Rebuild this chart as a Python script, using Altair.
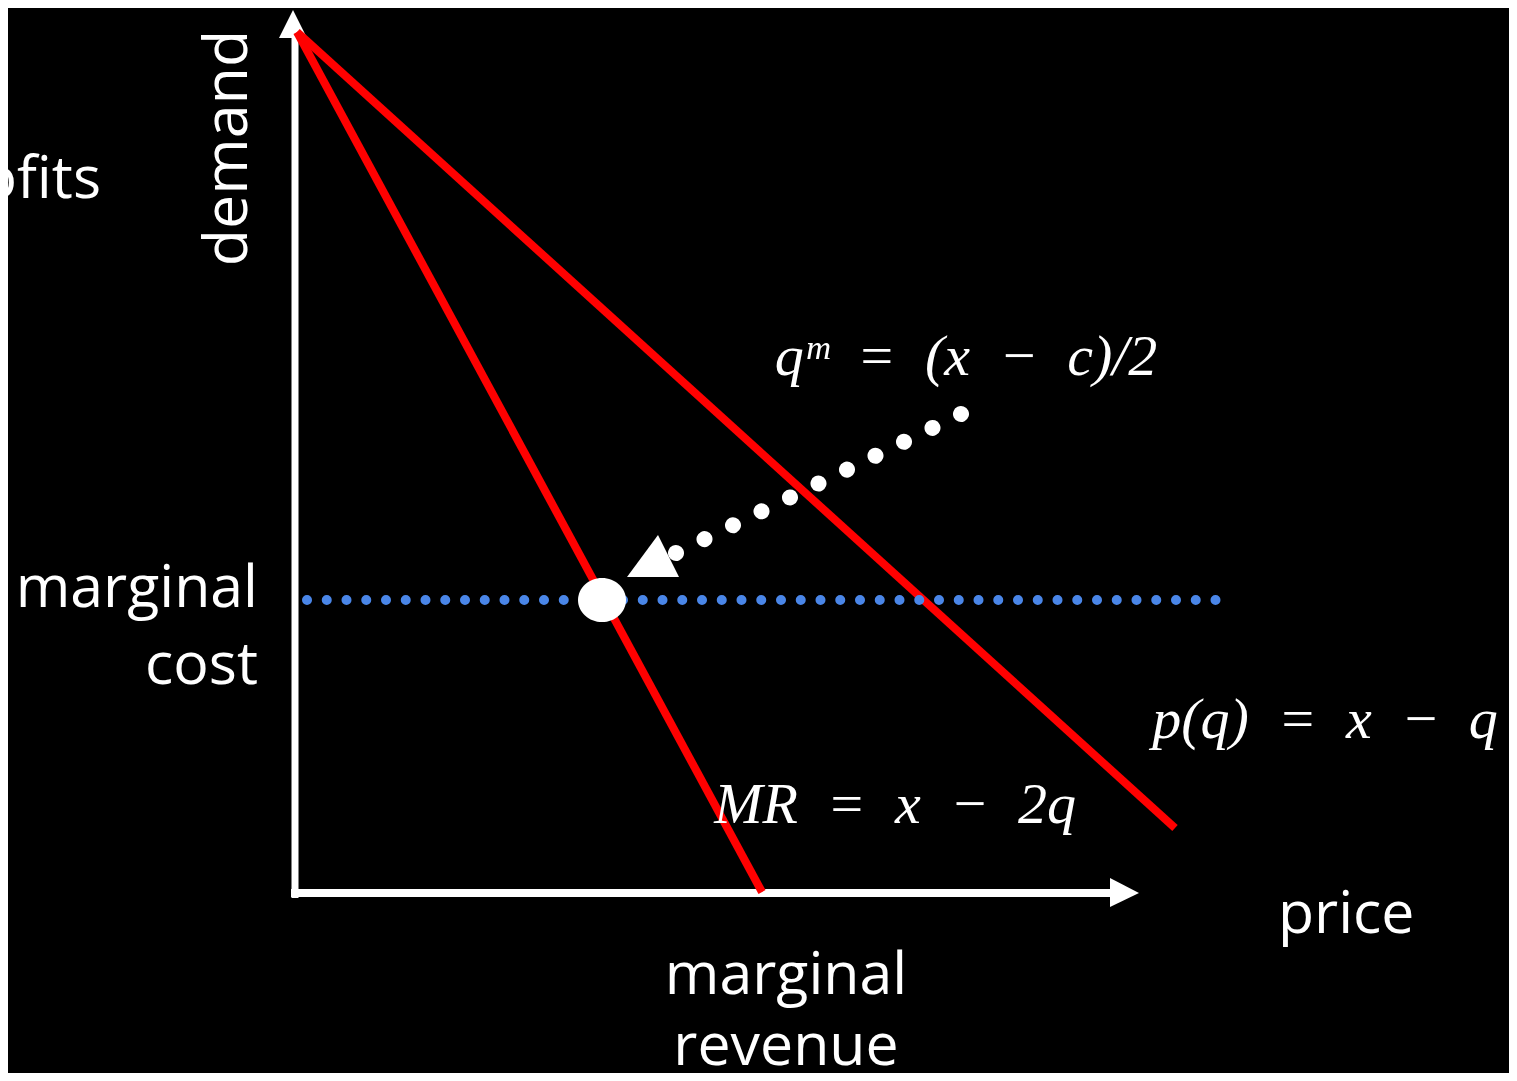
import altair as alt
import pandas as pd

# Diagram coordinates: origin at the corner of the two axes, quantity to the right,
# price upward (one unit of the diagram = one pixel of the reference picture).
X_DOMAIN = [-287, 1214]
Y_DOMAIN = [-180, 885]

# axes (shafts and arrow heads)
axis_v_q = [0, 0]
axis_v_p = [-5, 856]
axis_h_q = [-4, 816]
axis_h_p = [0, 0]
head_v_q = [-16, -2, 12]
head_v_p = [855, 883, 855]
head_h_q = [815, 844, 815]
head_h_p = [15, 0, -14]

# demand p(q) = x - q and marginal revenue MR = x - 2q (start, end)
demand_q = [2, 880]
demand_p = [861, 65]
mr_q = [2, 467]
mr_p = [861, 1]

# marginal cost level (dotted)
mc_q = [12, 922]
mc_p = [293, 293]

# monopoly optimum
opt_q = [307]
opt_p = [293]

# dotted pointer from the q^m label to the optimum, and its head
ptr_q = [666, 379]
ptr_p = [479, 339]
ptr_head_q = [332, 363, 384]
ptr_head_p = [316, 358, 316]

# text labels
sans_text = ["profits", "marginal", "cost", "price", "marginal", "revenue"]
sans_q = [-194, -37, -37, 983, 491, 491]
sans_p = [695, 286, 209, -40, -101, -172]
sans_align = ["right", "right", "right", "left", "center", "center"]

demand_label = "demand"
demand_label_q = -48
demand_label_p = 745

SP = "\u2002"
math_text = [
    f"qᵐ{SP}={SP}(x{SP}−{SP}c)/2",
    f"p(q){SP}={SP}x{SP}−{SP}q",
    f"MR{SP}={SP}x{SP}−{SP}2q",
]
math_q = [671, 1030, 600]
math_p = [518, 155, 70]

WHITE = "#ffffff"
RED = "#ff0000"
BLUE = "#4a86e8"

xs = alt.Scale(domain=X_DOMAIN, nice=False, zero=False)
ys = alt.Scale(domain=Y_DOMAIN, nice=False, zero=False)


def X(f):
    return alt.X(f, type="quantitative", scale=xs, axis=None)


def Y(f):
    return alt.Y(f, type="quantitative", scale=ys, axis=None)


def segment(q, p, **mark):
    df = pd.DataFrame({"q": [q[0]], "p": [p[0]], "q2": [q[1]], "p2": [p[1]]})
    return alt.Chart(df).mark_rule(**mark).encode(
        x=X("q"), y=Y("p"), x2="q2", y2="p2"
    )


layers = []

# axes
layers.append(segment(axis_v_q, axis_v_p, color=WHITE, strokeWidth=7, strokeCap="butt"))
layers.append(segment(axis_h_q, axis_h_p, color=WHITE, strokeWidth=8, strokeCap="butt"))
hv = pd.DataFrame({"q": head_v_q, "p": head_v_p, "base": [head_v_p[0]] * 3})
layers.append(
    alt.Chart(hv).mark_area(color=WHITE, opacity=1, orient="vertical").encode(
        x=X("q"), y=Y("p"), y2="base"
    )
)
hh = pd.DataFrame({"q": head_h_q, "p": head_h_p, "base": [head_h_q[0]] * 3})
layers.append(
    alt.Chart(hh).mark_area(color=WHITE, opacity=1, orient="horizontal").encode(
        y=Y("p"), x=X("q"), x2="base"
    )
)

# demand and marginal revenue
layers.append(segment(demand_q, demand_p, color=RED, strokeWidth=8, strokeCap="butt"))
layers.append(segment(mr_q, mr_p, color=RED, strokeWidth=8, strokeCap="butt"))

# marginal cost dotted line
layers.append(
    segment(mc_q, mc_p, color=BLUE, strokeWidth=10, strokeCap="round",
            strokeDash=[0.01, 19.74])
)

# dotted pointer and its head
layers.append(
    segment(ptr_q, ptr_p, color=WHITE, strokeWidth=16, strokeCap="round",
            strokeDash=[0.01, 31.70])
)
ph = pd.DataFrame({"q": ptr_head_q, "p": ptr_head_p, "base": [ptr_head_p[0]] * 3})
layers.append(
    alt.Chart(ph).mark_area(color=WHITE, opacity=1, orient="vertical").encode(
        x=X("q"), y=Y("p"), y2="base"
    )
)

# optimum
opt = pd.DataFrame({"q": opt_q, "p": opt_p})
layers.append(
    alt.Chart(opt).mark_point(
        filled=True, color=WHITE, opacity=1, size=2304,
        shape="M-1,0A1,0.92,0,1,1,1,0A1,0.92,0,1,1,-1,0Z",
    ).encode(x=X("q"), y=Y("p"))
)

# sans-serif labels
for a in ["left", "right", "center"]:
    rows = [
        (t, q, p) for t, q, p, al in zip(sans_text, sans_q, sans_p, sans_align) if al == a
    ]
    df = pd.DataFrame(rows, columns=["t", "q", "p"])
    layers.append(
        alt.Chart(df).mark_text(
            font="Open Sans", fontSize=59, color=WHITE, align=a, baseline="alphabetic"
        ).encode(x=X("q"), y=Y("p"), text="t:N")
    )

dl = pd.DataFrame({"t": [demand_label], "q": [demand_label_q], "p": [demand_label_p]})
layers.append(
    alt.Chart(dl).mark_text(
        font="Open Sans", fontSize=61, color=WHITE, align="center",
        baseline="alphabetic", angle=270,
    ).encode(x=X("q"), y=Y("p"), text="t:N")
)

# formulas
mt = pd.DataFrame({"t": math_text, "q": math_q, "p": math_p})
layers.append(
    alt.Chart(mt).mark_text(
        font="Liberation Serif", fontStyle="italic", fontSize=58, color=WHITE,
        align="center", baseline="alphabetic",
    ).encode(x=X("q"), y=Y("p"), text="t:N")
)

chart = (
    alt.layer(*layers)
    .properties(
        width=1501,
        height=1065,
        autosize=alt.AutoSizeParams(type="none"),
        padding=0,
        background="#000000",
    )
    .configure_view(stroke=None)
)

chart.save("out.html", embed_options={"renderer": "svg", "actions": False})
